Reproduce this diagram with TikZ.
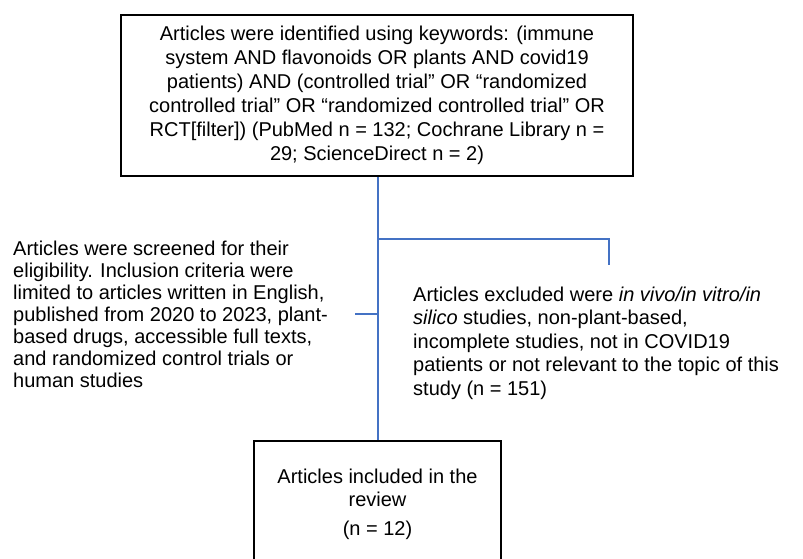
\documentclass[tikz,border=0pt]{standalone}
\usepackage{fontspec}
\setmainfont{Liberation Sans}
\definecolor{linkblue}{RGB}{68,114,196}
\begin{document}
\begin{tikzpicture}[x=1pt,y=1pt,
  box/.style={draw=black, line width=2pt, fill=white, inner sep=0pt, align=center},
  link/.style={draw=linkblue, line width=2pt},
  note/.style={inner sep=0pt, anchor=west, align=left}]
\useasboundingbox (0,0) rectangle (803,-559);
\node[box, minimum width=512pt, minimum height=161pt, font=\fontsize{20}{24}\selectfont] (top) at (377,-95.5)
 {Articles were identified using keywords: (immune\\
  system AND flavonoids OR plants AND covid19\\
  patients) AND (controlled trial'' OR ``randomized\\
  controlled trial'' OR ``randomized controlled trial'' OR\\
  RCT[filter]) (PubMed n = 132; Cochrane Library n =\\
  29; ScienceDirect n = 2)};
\node[box, minimum width=247pt, minimum height=126pt, font=\fontsize{20}{23}\selectfont] (incl) at (377.5,-504)
 {Articles included in the\\ review\\[6pt] (n = 12)};
\node[note, font=\fontsize{20}{22}\selectfont] (screen) at (13,-314)
 {Articles were screened for their\\
  eligibility. Inclusion criteria were\\
  limited to articles written in English,\\
  published from 2020 to 2023, plant-\\
  based drugs, accessible full texts,\\
  and randomized control trials or\\
  human studies};
\node[note, font=\fontsize{20}{23.5}\selectfont] (excl) at (413,-343)
 {Articles excluded were \textit{in vivo/in vitro/in}\\
  \textit{silico} studies, non-plant-based,\\
  incomplete studies, not in COVID19\\
  patients or not relevant to the topic of this\\
  study (n = 151)};
\coordinate (axis) at ([xshift=1pt]top.south);
\coordinate (split) at (axis |- 0,-239);
\coordinate (exend) at (609,-265);
\coordinate (scend) at (355,-314);
\draw[link] (axis) -- (axis |- incl.north);
\draw[link] (split) -| (exend);
\draw[link] (scend) -- (scend -| axis);
\end{tikzpicture}
\end{document}
